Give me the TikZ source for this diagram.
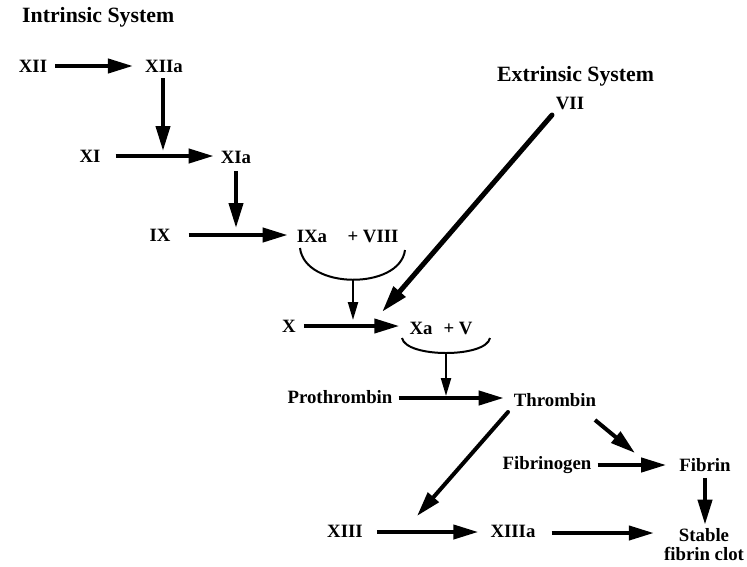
\documentclass[tikz,border=0pt]{standalone}
\usepackage{fontspec}
\setmainfont{Liberation Serif}
\usetikzlibrary{arrows.meta}
\begin{document}
\begin{tikzpicture}[x=1pt,y=-1pt,
  lbl/.style={inner sep=0pt,font=\fontsize{18.8}{22}\selectfont\bfseries},
  ttl/.style={inner sep=0pt,anchor=west,font=\fontsize{21.8}{25}\selectfont\bfseries},
  arr/.style={line width=4pt,-{Triangle[length=25pt,width=14pt]}},
  thin arr/.style={line width=2.2pt,-{Triangle[length=18pt,width=10pt]}},
  big arr/.style={line width=5pt,-{Triangle[length=27pt,width=15pt]}},
  bracket/.style={line width=2pt}]
\useasboundingbox (0,0) rectangle (747,566);
% labels
\node[ttl] (intr) at (22,17) {Intrinsic System};
\node[ttl] (extr) at (497,76) {Extrinsic System};
\node[lbl] (XII) at (33,66) {XII};
\node[lbl] (XIIa) at (164,66) {XIIa};
\node[lbl] (XI) at (90,156) {XI};
\node[lbl] (XIa) at (236,157) {XIa};
\node[lbl] (IX) at (160,235) {IX};
\node[lbl] (IXa) at (312,236) {IXa};
\node[lbl] (VIII) at (373,236) {+ VIII};
\node[lbl] (X) at (289,326) {X};
\node[lbl] (Xa) at (421,328) {Xa};
\node[lbl] (V) at (458,328) {+ V};
\node[lbl] (VII) at (570,103) {VII};
\node[lbl] (Pro) at (340,397) {Prothrombin};
\node[lbl] (Thr) at (555,400) {Thrombin};
\node[lbl] (Fbg) at (547,465) {Fibrinogen};
\node[lbl] (Fbn) at (705,465) {Fibrin};
\node[lbl] (XIII) at (345,531) {XIII};
\node[lbl] (XIIIa) at (513,531) {XIIIa};
\node[lbl,align=center,font=\fontsize{18.8}{19}\selectfont\bfseries] (clot) at (704,545) {Stable\\fibrin clot};
% junction coordinates on arrows
\coordinate (j1) at (163,151);
\coordinate (j2) at (236,228);
\coordinate (c1a) at (300,248);
\coordinate (c1b) at (405,250);
\coordinate (c1m) at (353,280);
\coordinate (j3) at (353,320);
\coordinate (j4) at (382,312);
\coordinate (c2a) at (402,338);
\coordinate (c2b) at (490,338);
\coordinate (c2m) at (446,353);
\coordinate (j5) at (446,396);
% arrows
\draw[arr] ([xshift=8pt]XII.east) -- ([xshift=-12pt]XIIa.west);
\draw[arr] ([yshift=-6pt]XIIa.south -| j1) -- (j1);
\draw[arr] ([xshift=15pt]XI.east) -- ([xshift=-7pt]XIa.west |- XI.east);
\draw[arr] ([yshift=-8pt]XIa.south) -- (j2);
\draw[arr] ([xshift=18pt]IX.east) -- ([xshift=-9pt]IXa.west |- IX.east);
\draw[bracket] (c1a) .. controls (305,290) and (400,290) .. (c1b);
\draw[thin arr] (c1m) -- (j3);
\draw[arr] ([xshift=8pt]X.east) -- ([xshift=-10pt]Xa.west |- X.east);
\draw[big arr, line cap=round] ([xshift=-18pt,yshift=-12pt]VII.center) -- (j4);
\draw[bracket] (c2a) .. controls (406,358) and (486,358) .. (c2b);
\draw[thin arr] (c2m) -- (j5);
\draw[arr] ([xshift=6pt]Pro.east |- 0,398) -- ([xshift=-10pt]Thr.west |- 0,398);
\draw[arr, line cap=round] ([xshift=-47pt,yshift=-12pt]Thr.center) -- ([xshift=72pt,yshift=15pt]XIII.center);
\draw[arr] ([xshift=40pt,yshift=-20pt]Thr.center) -- ([xshift=-70pt,yshift=12pt]Fbn.center);
\draw[arr] ([xshift=6pt]Fbg.east) -- ([xshift=-13pt]Fbn.west);
\draw[arr] ([yshift=-6pt]Fbn.south) -- ([yshift=4pt]Fbn.center |- clot.north);
\draw[arr] ([xshift=14pt]XIII.east |- 0,532) -- ([xshift=-12pt]XIIIa.west |- 0,532);
\draw[arr] ([xshift=16pt]XIIIa.east |- 0,533) -- ([xshift=-10pt]clot.west |- 0,533);
\end{tikzpicture}
\end{document}
